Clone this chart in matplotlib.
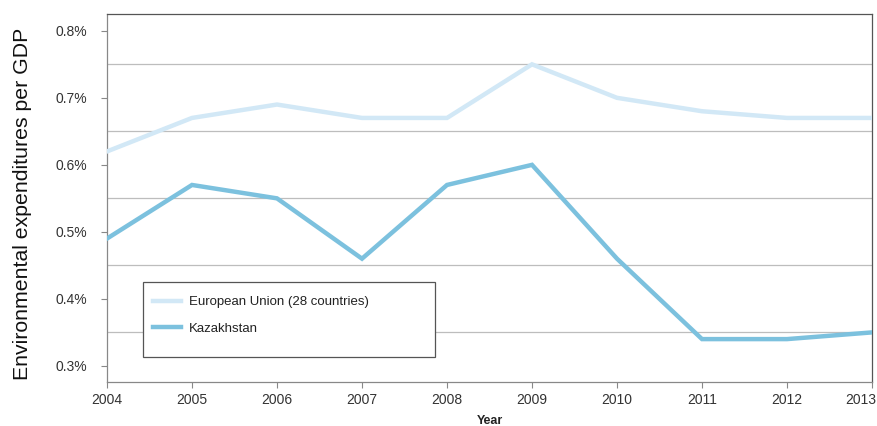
import matplotlib
matplotlib.use("Agg")
import matplotlib.pyplot as plt
import matplotlib.transforms as mtransforms
from matplotlib.patches import Rectangle
from matplotlib.ticker import FuncFormatter

years = [2004, 2005, 2006, 2007, 2008, 2009, 2010, 2011, 2012, 2013]
eu = [0.62, 0.67, 0.69, 0.67, 0.67, 0.75, 0.70, 0.68, 0.67, 0.67]
kz = [0.49, 0.57, 0.55, 0.46, 0.57, 0.60, 0.46, 0.34, 0.34, 0.35]
series_names = ["European Union (28 countries)", "Kazakhstan"]
y_ticks = [0.3, 0.4, 0.5, 0.6, 0.7, 0.8]
grid_lines = [0.35, 0.45, 0.55, 0.65, 0.75]

plt.rcParams['font.family'] = ['Liberation Sans', 'DejaVu Sans']

fig = plt.figure(figsize=(8.77, 4.26), dpi=100)
ax = fig.add_axes([0.122, 0.1033, 0.8723, 0.8637])

for g in grid_lines:
    ax.axhline(g, color='#bdbdbd', lw=0.9, zorder=1)

ax.plot(years, eu, color='#d2e8f6', lw=3.2, label=series_names[0], zorder=3, solid_joinstyle='miter')
ax.plot(years, kz, color='#7cc1de', lw=3.2, label=series_names[1], zorder=3, solid_joinstyle='miter')

ax.set_xlim(2004, 2013)
ax.set_ylim(0.276, 0.825)
ax.set_xticks(years)
ax.set_yticks(y_ticks)
ax.yaxis.set_major_formatter(FuncFormatter(lambda v, p: f"{v:.1f}%"))

for s in ['top', 'right']:
    ax.spines[s].set_color('#555555')
    ax.spines[s].set_linewidth(0.9)
for s in ['left', 'bottom']:
    ax.spines[s].set_color('#888888')
    ax.spines[s].set_linewidth(0.9)

ax.tick_params(axis='both', colors='#888888', labelcolor='#333333', labelsize=10, length=4, width=0.8)
ax.tick_params(axis='y', pad=10)
ax.tick_params(axis='x', pad=4)

fig.canvas.draw()
last = ax.get_xticklabels()[-1]
last.set_horizontalalignment('right')
last.set_transform(last.get_transform() + mtransforms.ScaledTranslation(4/100, 0, fig.dpi_scale_trans))

ax.set_ylabel("Environmental expenditures per GDP", fontsize=15.3, color='#111111')
ax.yaxis.set_label_coords(-0.098, 0.484)
ax.set_xlabel("Year", fontsize=9, fontweight='bold', color='#222222', labelpad=6)

# legend frame
ax.add_patch(Rectangle((0.047, 0.068), 0.3817, 0.2038, transform=ax.transAxes,
                       facecolor='white', edgecolor='#555555', lw=0.9, zorder=5))
leg = ax.legend(loc='upper left', bbox_to_anchor=(0.060, 0.234),
                fontsize=9.5, frameon=False, handlelength=2.1,
                labelspacing=1.08, borderpad=0, handletextpad=0.6, borderaxespad=0)
leg.set_zorder(6)
for t in leg.get_texts():
    t.set_color('#222222')

fig.savefig("out.png", dpi=100)
